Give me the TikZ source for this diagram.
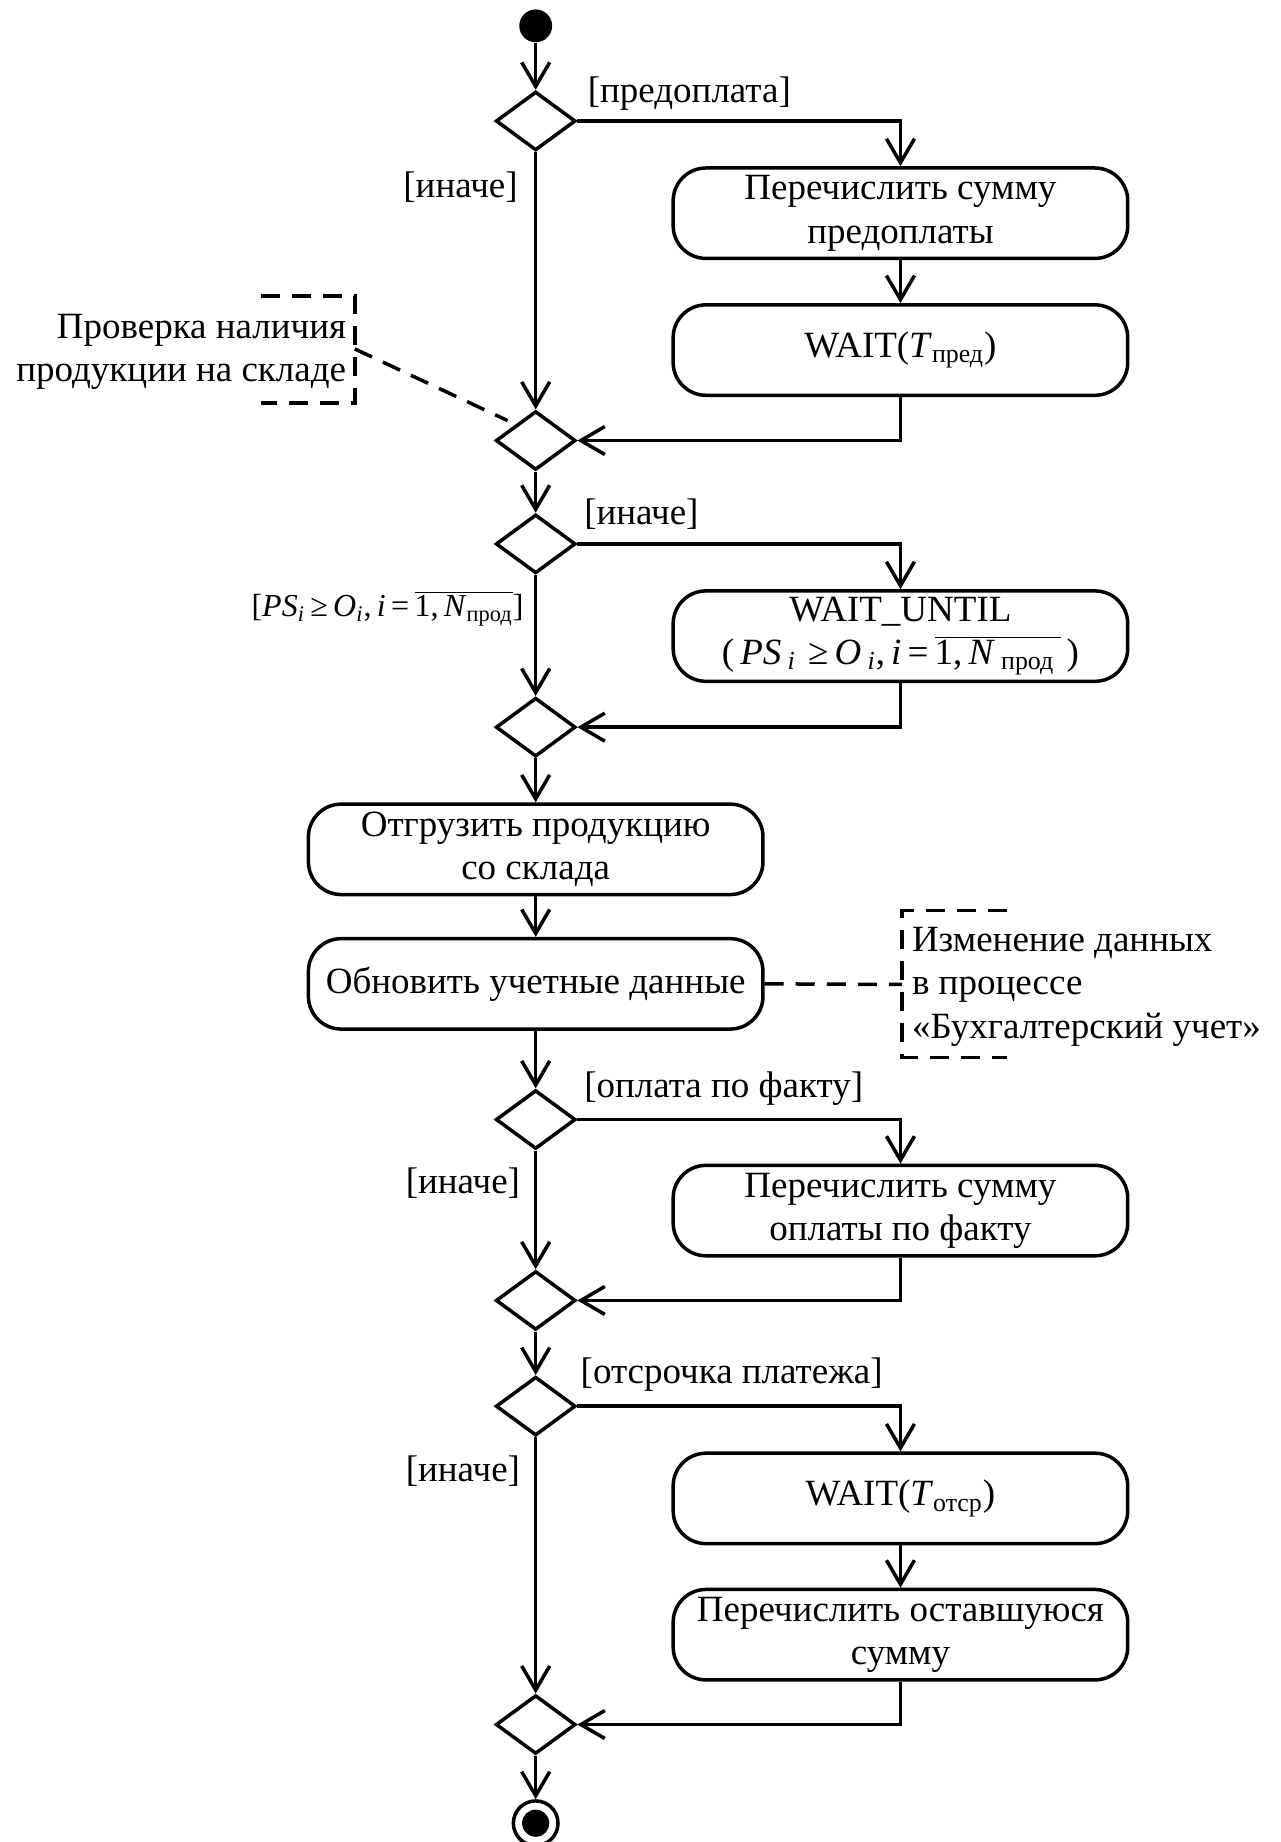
\documentclass[tikz,border=0pt]{standalone}
\usepackage{fontspec}
\setmainfont{Liberation Serif}
\usetikzlibrary{shapes.geometric,arrows.meta}
\newcommand\fmlA{[\textit{PS}\textsubscript{\textit{i}}\,≥\,\textit{O}\textsubscript{\textit{i}},\,\textit{i}\,=\,$\overline{\hbox{1,\,\textit{N}\textsubscript{прод}}}$]}
\newcommand\fmlB{(\,\textit{PS}\,\textsubscript{\textit{i}}\,\,≥\,\textit{O}\,\textsubscript{\textit{i}},\,\textit{i}\,=\,$\overline{\hbox{1,\,\textit{N}\,\textsubscript{прод}\,}}$\,)}
\begin{document}
\begin{tikzpicture}[x=0.58716pt,y=-0.58716pt,
  every node/.style={font=\fontsize{18.5}{21.7}\selectfont},
  act/.style={draw, line width=1.75pt, rounded corners=16.4pt, minimum width=227.2pt, minimum height=45.2pt, align=center, inner sep=0pt},
  dec/.style={draw, diamond, line width=1.75pt, minimum width=39.9pt, minimum height=29.4pt, inner sep=0pt},
  flow/.style={line width=1.75pt, -{Straight Barb[length=12pt,width=14pt]}},
  notel/.style={line width=1.75pt, dash pattern=on 9.5pt off 6pt},
  lbl/.style={inner sep=0pt}
]
\useasboundingbox (0,0) rectangle (1090,1568);

% nodes
\node[circle, fill, minimum size=16.4pt, inner sep=0pt] (start) at (456,22) {};
\node[dec] (d1) at (456,103) {};
\node[act] (b1) at (766.5,181.5) {Перечислить сумму\\предоплаты};
\node[act] (b2) at (766.5,298) {WAIT(\textit{T}\textsubscript{пред})};
\node[dec] (d2) at (456,375) {};
\node[dec] (d3) at (456,463) {};
\node[act] (b3) at (766.5,541.5) {WAIT\_UNTIL\\\fmlB};
\node[dec] (d4) at (456,619) {};
\node[act] (b4) at (456,723) {Отгрузить продукцию\\со склада};
\node[act] (b5) at (456,837.5) {Обновить учетные данные};
\node[dec] (d5) at (456,953) {};
\node[act] (b6) at (766.5,1030.5) {Перечислить сумму\\оплаты по факту};
\node[dec] (d6) at (456,1107) {};
\node[dec] (d7) at (456,1197) {};
\node[act] (b7) at (766.5,1275.5) {WAIT(\textit{T}\textsubscript{отср})};
\node[act] (b8) at (766.5,1391.5) {Перечислить оставшуюся\\сумму};
\node[dec] (d8) at (456,1468) {};
\node[circle, draw, line width=1.75pt, minimum size=22.3pt, inner sep=0pt] (end) at (456,1552) {};
\fill (end.center) circle[radius=6.8pt];

% labels
\node[lbl, anchor=west] (l1) at (500,80) {[предоплата]};
\node[lbl, anchor=east] (l2) at (441,159) {[иначе]};
\node[lbl, anchor=west] (l3) at (497,438) {[иначе]};
\node[lbl, anchor=east, font=\fontsize{16}{19}\selectfont] (l4) at (446,518) {\fmlA};
\node[lbl, anchor=west] (l5) at (497,927) {[оплата по факту]};
\node[lbl, anchor=east] (l6) at (443,1007) {[иначе]};
\node[lbl, anchor=west] (l7) at (494,1170) {[отсрочка платежа]};
\node[lbl, anchor=east] (l8) at (443,1252) {[иначе]};

% notes
\node[lbl, anchor=east, align=right] (n1) at (295,299.5) {Проверка наличия\\продукции на складе};
\draw[notel] (222,252) -- (302,252) -- (302,343) -- (222,343);
\coordinate (n1a) at (302,297);
\coordinate (n1b) at (432,358);
\draw[notel] (n1a) -- (n1b);

\node[lbl, anchor=west, align=left] (n2) at (776,840) {Изменение данных\\в процессе\\«Бухгалтерский учет»};
\draw[notel] (857,775) -- (768,775) -- (768,900) -- (857,900);
\coordinate (n2a) at (768,838);
\draw[notel] (b5.east) -- (n2a);

% flows
\draw[flow] (start) -- (d1.north);
\draw[flow] (d1.east) -| (b1.north);
\draw[flow] (b1) -- (b2);
\draw[flow] (b2.south) |- (d2.east);
\draw[flow] (d1.south) -- (d2.north);
\draw[flow] (d2.south) -- (d3.north);
\draw[flow] (d3.east) -| (b3.north);
\draw[flow] (b3.south) |- (d4.east);
\draw[flow] (d3.south) -- (d4.north);
\draw[flow] (d4.south) -- (b4.north);
\draw[flow] (b4) -- (b5);
\draw[flow] (b5.south) -- (d5.north);
\draw[flow] (d5.east) -| (b6.north);
\draw[flow] (b6.south) |- (d6.east);
\draw[flow] (d5.south) -- (d6.north);
\draw[flow] (d6.south) -- (d7.north);
\draw[flow] (d7.east) -| (b7.north);
\draw[flow] (b7) -- (b8);
\draw[flow] (b8.south) |- (d8.east);
\draw[flow] (d7.south) -- (d8.north);
\draw[flow] (d8.south) -- (end.north);
\end{tikzpicture}
\end{document}
